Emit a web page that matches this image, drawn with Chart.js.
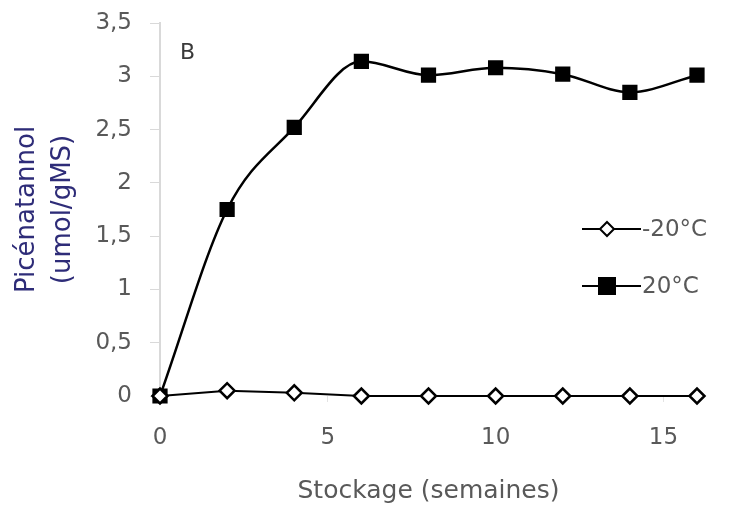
<!DOCTYPE html>
<html>
<head>
<meta charset="utf-8">
<script src="https://cdn.jsdelivr.net/npm/chart.js@4"></script>
<style>
  body { margin: 0; background: #fff; }
  #wrap { width: 731px; height: 510px; }
</style>
</head>
<body>
<div id="wrap"><canvas id="myChart"></canvas></div>
<script>
const weeks = [0, 2, 4, 6, 8, 10, 12, 14, 16];
const coldValues = [0, 0.05, 0.03, 0, 0, 0, 0, 0, 0];
const warmValues = [0, 1.75, 2.52, 3.14, 3.01, 3.08, 3.02, 2.85, 3.01];
const seriesNames = ['-20°C', '20°C'];
const xTicks = [0, 5, 10, 15];

const toPoints = vals => weeks.map((w, i) => ({ x: w, y: vals[i] }));
const fontFam = "'DejaVu Sans', sans-serif";
const gray = '#595959';

// legend drawn like Excel: line through the marker
const sideLegend = {
  id: 'sideLegend',
  afterDraw(chart) {
    const c = chart.ctx;
    const rows = [
      { y: 229, ds: chart.data.datasets[0] },
      { y: 286, ds: chart.data.datasets[1] }
    ];
    c.save();
    rows.forEach(r => {
      c.strokeStyle = '#000';
      c.lineWidth = 2;
      c.beginPath();
      c.moveTo(582, r.y);
      c.lineTo(641, r.y);
      c.stroke();
      const mx = 607;
      if (r.ds.pointStyle === 'rectRot') {
        c.fillStyle = '#fff';
        c.beginPath();
        c.moveTo(mx, r.y - 7);
        c.lineTo(mx + 7, r.y);
        c.lineTo(mx, r.y + 7);
        c.lineTo(mx - 7, r.y);
        c.closePath();
        c.fill();
        c.stroke();
      } else {
        c.fillStyle = '#000';
        c.fillRect(mx - 9, r.y - 9, 18, 18);
      }
      c.fillStyle = gray;
      c.font = '23px ' + fontFam;
      c.textBaseline = 'middle';
      c.textAlign = 'left';
      c.fillText(r.ds.label, 642, r.y + 1);
    });
    // panel letter
    c.fillStyle = '#3a3a3a';
    c.font = '22px ' + fontFam;
    c.fillText('B', 180, 53);
    c.restore();
  }
};

new Chart(document.getElementById('myChart'), {
  type: 'scatter',
  data: {
    datasets: [{
      label: seriesNames[0],
      data: toPoints(coldValues),
      showLine: true,
      borderColor: '#000',
      borderWidth: 2,
      backgroundColor: '#fff',
      pointStyle: 'rectRot',
      pointRadius: 7.5,
      pointBorderWidth: 2.5,
      pointBackgroundColor: '#fff',
      tension: 0
    }, {
      label: seriesNames[1],
      data: toPoints(warmValues),
      showLine: true,
      borderColor: '#000',
      borderWidth: 2.5,
      backgroundColor: '#000',
      pointStyle: 'rect',
      pointRadius: 9,
      pointBackgroundColor: '#000',
      cubicInterpolationMode: 'monotone'
    }]
  },
  options: {
    responsive: true,
    maintainAspectRatio: false,
    animation: false,
    clip: false,
    layout: { padding: { top: 23, right: 34, left: 0, bottom: 0 } },
    plugins: {
      legend: { display: false },
      tooltip: { enabled: false }
    },
    scales: {
      x: {
        type: 'linear',
        min: 0,
        max: 16,
        afterBuildTicks: s => { s.ticks = xTicks.map(v => ({ value: v })); },
        grid: { display: true, drawOnChartArea: false, tickLength: 6, color: '#e3e3e3' },
        border: { display: false },
        ticks: { color: gray, font: { size: 23, family: fontFam }, padding: 22, maxRotation: 0 },
        title: { display: true, text: 'Stockage (semaines)', color: gray, font: { size: 25, family: fontFam }, padding: { top: 10 } },
        afterFit: s => { s.height = 114; s.paddingLeft = 0; s.paddingRight = 0; }
      },
      y: {
        min: 0,
        max: 3.5,
        ticks: {
          stepSize: 0.5,
          color: gray,
          font: { size: 23, family: fontFam },
          padding: 18,
          callback: v => String(v).replace('.', ',')
        },
        grid: { display: true, drawOnChartArea: false, tickLength: 10, color: '#d9d9d9', lineWidth: 1 },
        border: { display: true, color: '#d9d9d9', width: 2 },
        title: {
          display: true,
          text: ['Picénatannol', '(umol/gMS)'],
          color: '#2e2c78',
          font: { size: 26, family: fontFam, lineHeight: 1.38 },
          padding: { top: 9, bottom: 0 }
        },
        afterFit: s => { s.width = 160; s.paddingTop = 0; s.paddingBottom = 0; }
      }
    }
  },
  plugins: [sideLegend]
});
</script>
</body>
</html>
